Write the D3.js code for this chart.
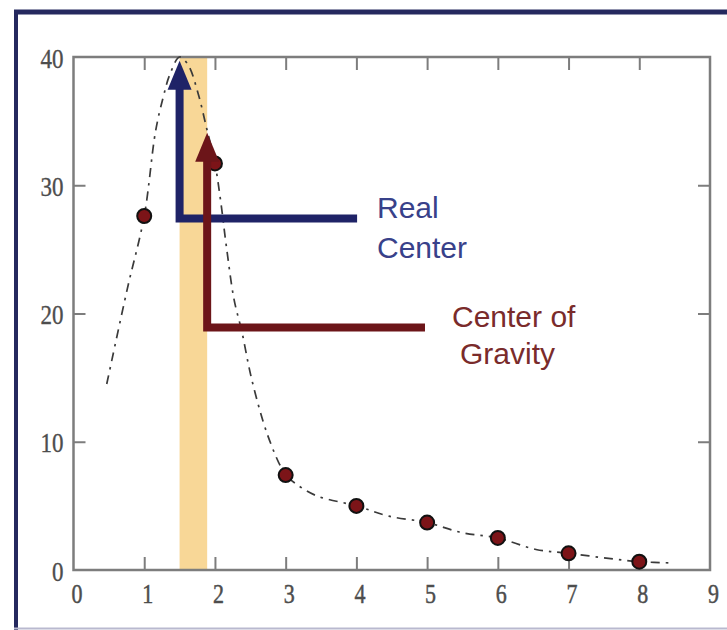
<!DOCTYPE html>
<html>
<head>
<meta charset="utf-8">
<script src="https://cdn.jsdelivr.net/npm/d3@7"></script>
<style>
  html, body { margin: 0; padding: 0; background: #fff; }
  svg { display: block; }
</style>
</head>
<body>
<svg id="chart" width="727" height="630"></svg>
<script>
// ---- data ----
const xTickLabels = [0, 1, 2, 3, 4, 5, 6, 7, 8, 9];
const yTickLabels = [0, 10, 20, 30, 40];
const pointX = [1, 2, 3, 4, 5, 6, 7, 8];
const pointY = [27.6, 31.7, 7.4, 5.0, 3.7, 2.5, 1.3, 0.65];
const curveX = [0.47, 0.76, 1.0, 1.16, 1.27, 1.36, 1.5, 1.62, 1.76, 1.88, 2.0, 2.08, 2.16, 2.27, 2.38, 2.51, 2.68, 2.8, 2.9, 3.0, 3.15, 3.43, 4.0, 4.46, 5.0, 5.5, 6.0, 6.54, 7.0, 7.63, 8.0, 8.49];
const curveY = [14.5, 21.9, 27.6, 34.2, 36.9, 38.6, 40.0, 39.4, 37.2, 34.5, 31.7, 28.8, 25.3, 21.1, 18.6, 15.1, 11.6, 9.7, 8.4, 7.4, 6.7, 5.8, 5.0, 4.2, 3.7, 2.9, 2.5, 1.6, 1.3, 0.86, 0.65, 0.55];
const bandRange = [1.5, 1.89];
const realCenter = { x: 1.5, top: 39.7, y: 27.4, xEnd: 4.01, label: ["Real", "Center"] };
const gravityCenter = { x: 1.89, top: 34.1, y: 18.9, xEnd: 4.97, label: ["Center of", "Gravity"] };

// ---- layout ----
const svg = d3.select("#chart");
const x = d3.scaleLinear().domain([0, 9]).range([73.5, 710]);
const y = d3.scaleLinear().domain([0, 40]).range([570, 57]);

// outer frame
svg.append("line").attr("x1", 14).attr("x2", 727).attr("y1", 12).attr("y2", 12)
  .attr("stroke", "#25295f").attr("stroke-width", 5);
svg.append("line").attr("x1", 16).attr("x2", 16).attr("y1", 10).attr("y2", 630)
  .attr("stroke", "#25295f").attr("stroke-width", 4);
svg.append("line").attr("x1", 14).attr("x2", 727).attr("y1", 628.5).attr("y2", 628.5)
  .attr("stroke", "#b9b9cf").attr("stroke-width", 2);

// band
svg.append("rect")
  .attr("x", x(bandRange[0])).attr("y", y(40))
  .attr("width", x(bandRange[1]) - x(bandRange[0]))
  .attr("height", y(0) - y(40))
  .attr("fill", "#f7d38c").attr("opacity", 0.9);

// axes
const axisColor = "#7d7d7d";
function styleAxis(g) {
  g.select(".domain").remove();
  g.selectAll(".tick line").attr("stroke", axisColor).attr("stroke-width", 2);
}
const inner = [1, 2, 3, 4, 5, 6, 7, 8];
const innerY = [10, 20, 30];
svg.append("g").attr("transform", `translate(0,${y(0)})`)
  .call(d3.axisBottom(x).tickValues(inner).tickSize(-13).tickFormat("")).call(styleAxis);
svg.append("g").attr("transform", `translate(0,${y(40)})`)
  .call(d3.axisTop(x).tickValues(inner).tickSize(-13).tickFormat("")).call(styleAxis);
svg.append("g").attr("transform", `translate(${x(0)},0)`)
  .call(d3.axisLeft(y).tickValues(innerY).tickSize(-12).tickFormat("")).call(styleAxis);
svg.append("g").attr("transform", `translate(${x(9)},0)`)
  .call(d3.axisRight(y).tickValues(innerY).tickSize(-12).tickFormat("")).call(styleAxis);

// plot box
svg.append("rect")
  .attr("x", x(0)).attr("y", y(40))
  .attr("width", x(9) - x(0)).attr("height", y(0) - y(40))
  .attr("fill", "none").attr("stroke", axisColor).attr("stroke-width", 2.5);

// tick labels
const labelFont = "'Liberation Serif', 'Times New Roman', serif";
const xl = svg.append("g").attr("transform", `translate(3,${y(0) + 14})`)
  .call(d3.axisBottom(x).tickValues(xTickLabels).tickSize(0).tickPadding(0).tickFormat(d3.format("d")));
xl.select(".domain").remove();
xl.selectAll("text")
  .attr("font-family", labelFont).attr("font-size", 22).attr("fill", "#4d4d4d")
  .attr("stroke", "#4d4d4d").attr("stroke-width", 0.4)
  .attr("dy", "0.71em").attr("y", 0)
  .attr("transform", "scale(1,1.22)");

const yl = svg.append("g").attr("transform", `translate(${x(0) - 10},2)`)
  .call(d3.axisLeft(y).tickValues(yTickLabels).tickSize(0).tickPadding(0).tickFormat(d3.format("d")));
yl.select(".domain").remove();
yl.selectAll("text")
  .attr("font-family", labelFont).attr("font-size", 23).attr("fill", "#4d4d4d")
  .attr("stroke", "#4d4d4d").attr("stroke-width", 0.3)
  .attr("dy", "0.3em")
  .attr("transform", "scale(1,1.18)");

// dash-dot curve
const curvePts = curveX.map((d, i) => [d, curveY[i]]);
svg.append("path")
  .attr("d", d3.line().x(d => x(d[0])).y(d => y(d[1])).curve(d3.curveCatmullRom)(curvePts))
  .attr("fill", "none").attr("stroke", "#3a3a3a").attr("stroke-width", 1.7)
  .attr("stroke-dasharray", "9,6,2.5,6");

// points
svg.append("g").selectAll("circle").data(pointX.map((d, i) => [d, pointY[i]])).join("circle")
  .attr("cx", d => x(d[0])).attr("cy", d => y(d[1])).attr("r", 7)
  .attr("fill", "#7c1418").attr("stroke", "#111").attr("stroke-width", 2);

// arrows
function drawArrow(a, color, textColor, tx, ty) {
  const headH = 29, headW = 24;
  const tipY = y(a.top);
  svg.append("path")
    .attr("d", d3.line()([[x(a.xEnd), y(a.y)], [x(a.x), y(a.y)], [x(a.x), tipY + headH - 2]]))
    .attr("fill", "none").attr("stroke", color).attr("stroke-width", 8)
    .attr("stroke-linejoin", "miter");
  svg.append("path")
    .attr("d", d3.line()([[x(a.x), tipY], [x(a.x) - headW / 2, tipY + headH], [x(a.x) + headW / 2, tipY + headH]]) + "Z")
    .attr("fill", color);
  const t = svg.append("text").attr("font-family", "'Liberation Sans', Arial, sans-serif")
    .attr("font-size", 30).attr("fill", textColor);
  a.label.forEach((s, i) => {
    t.append("tspan").attr("x", tx[i]).attr("y", ty[i]).text(s);
  });
}
drawArrow(realCenter, "#1f2367", "#38418a", [377, 377], [218, 258]);
drawArrow(gravityCenter, "#6c1519", "#7a2b2b", [452, 460], [327, 364]);
</script>
</body>
</html>
